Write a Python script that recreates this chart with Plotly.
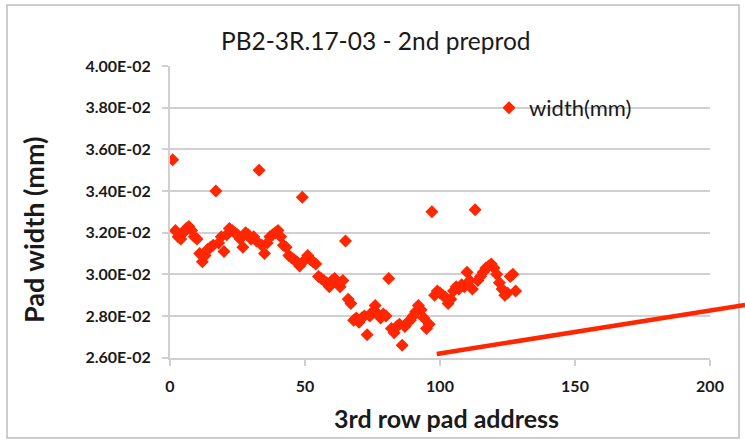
import plotly.graph_objects as go

W, H = 745, 441

pad_address = list(range(1, 129))
pad_width = [
    0.0355, 0.0321, 0.0318, 0.0317, 0.0320, 0.0322, 0.0323, 0.0321, 0.0318, 0.0317,
    0.0310, 0.0306, 0.0309, 0.0312, 0.0313, 0.0314, 0.0340, 0.0315, 0.0318, 0.0311,
    0.0319, 0.0322, 0.0321, 0.0320, 0.0319, 0.0317, 0.0313, 0.0320, 0.0319, 0.0317,
    0.0318, 0.0316, 0.0350, 0.0314, 0.0310, 0.0315, 0.0318, 0.0319, 0.0320, 0.0321,
    0.0318, 0.0314, 0.0313, 0.0309, 0.0308, 0.0307, 0.0306, 0.0304, 0.0337, 0.0307,
    0.0309, 0.0307, 0.0306, 0.0305, 0.0299, 0.0298, 0.0297, 0.0296, 0.0294, 0.0297,
    0.0298, 0.0296, 0.0294, 0.0297, 0.0316, 0.0288, 0.0286, 0.0278, 0.0279, 0.0277,
    0.0279, 0.0280, 0.0271, 0.0280, 0.0282, 0.0285, 0.0281, 0.0279, 0.0281, 0.0280,
    0.0298, 0.0274, 0.0272, 0.0275, 0.0276, 0.0266, 0.0275, 0.0277, 0.0278, 0.0280,
    0.0282, 0.0285, 0.0283, 0.0279, 0.0274, 0.0276, 0.0330, 0.0290, 0.0292, 0.0291,
    0.0290, 0.0289, 0.0286, 0.0288, 0.0292, 0.0294, 0.0293, 0.0295, 0.0294, 0.0301,
    0.0297, 0.0293, 0.0331, 0.0297, 0.0299, 0.0301, 0.0303, 0.0304, 0.0305, 0.0303,
    0.0300, 0.0296, 0.0293, 0.0290, 0.0291, 0.0299, 0.0300, 0.0292,
]

# stray red line (extends past the plot area to the image edge)
line_x = [98.8, 213.0]
line_y = [0.02618, 0.02853]

y_tickvals = [0.026, 0.028, 0.030, 0.032, 0.034, 0.036, 0.038, 0.040]
y_ticktext = ["2.60E-02", "2.80E-02", "3.00E-02", "3.20E-02",
              "3.40E-02", "3.60E-02", "3.80E-02", "4.00E-02"]
x_tickvals = [0, 50, 100, 150, 200]
x_ticktext = ["0", "50", "100", "150", "200"]

title_text = "PB2-3R.17-03 - 2nd preprod"
x_title = "3rd row pad address"
y_title = "Pad width (mm)"
series_name = "width(mm)"

RED = "#FF2600"
GRID = "#d0d0d0"
FONT = "Lato"
TXT = "#1a1a1a"

def px(x):
    return x / W

def py(y):
    return 1 - y / H

x_left, x_right = 170, 710
y_top, y_bot = 66, 357.7
y_range = [0.026, 0.040]

fig = go.Figure()
fig.add_trace(go.Scatter(
    x=pad_address, y=pad_width, mode="markers", name=series_name,
    marker=dict(symbol="diamond", size=10, color=RED, line=dict(width=0)),
    xaxis="x", yaxis="y",
))
fig.add_trace(go.Scatter(
    x=line_x, y=line_y, mode="lines", showlegend=False,
    line=dict(color=RED, width=4.5),
    xaxis="x2", yaxis="y2",
))

fig.update_layout(
    template="none",
    width=W, height=H,
    margin=dict(l=0, r=0, t=0, b=0, autoexpand=False),
    paper_bgcolor="white", plot_bgcolor="rgba(0,0,0,0)",
    font=dict(family=FONT, color=TXT),
    showlegend=True,
    hovermode="closest",
    legend=dict(x=px(489), y=py(108), xanchor="left", yanchor="middle",
                bgcolor="rgba(0,0,0,0)", borderwidth=0,
                font=dict(size=22, family=FONT, color=TXT)),
    xaxis=dict(
        domain=[px(x_left), px(x_right)], range=[0, 200],
        showgrid=False, zeroline=False, automargin=False,
        showline=True, linecolor=GRID, linewidth=2,
        ticks="outside", ticklen=6, tickwidth=2, tickcolor=GRID,
        tickvals=x_tickvals, ticktext=x_ticktext,
        tickfont=dict(size=16, family=FONT, color=TXT, weight="bold"),
        ticklabelstandoff=7,
        anchor="y",
    ),
    yaxis=dict(
        domain=[py(y_bot), py(y_top)], range=y_range,
        showgrid=True, gridcolor=GRID, gridwidth=2, zeroline=False, automargin=False,
        showline=True, linecolor=GRID, linewidth=2,
        ticks="outside", ticklen=6, tickwidth=2, tickcolor=GRID,
        tickvals=y_tickvals, ticktext=y_ticktext,
        tickfont=dict(size=16, family=FONT, color=TXT, weight="bold"),
        ticklabelstandoff=8,
        anchor="x",
    ),
    xaxis2=dict(
        domain=[px(x_left), 1.0], range=[0, (W - x_left) / ((x_right - x_left) / 200)],
        visible=False, anchor="y2", automargin=False, showgrid=False, zeroline=False,
    ),
    yaxis2=dict(
        domain=[py(y_bot), py(y_top)], range=y_range,
        visible=False, anchor="x2", automargin=False, showgrid=False, zeroline=False,
    ),
    shapes=[dict(type="rect", xref="paper", yref="paper",
                 x0=px(7), x1=px(739), y0=py(438), y1=py(5),
                 line=dict(color="#bdbdbd", width=1.5), fillcolor="rgba(0,0,0,0)",
                 layer="below")],
    annotations=[
        dict(text=title_text, xref="paper", yref="paper", x=px(376), y=py(41),
             showarrow=False, xanchor="center", yanchor="middle",
             font=dict(size=24.5, family=FONT, color=TXT)),
        dict(text=x_title, xref="paper", yref="paper", x=px(446), y=py(418),
             showarrow=False, xanchor="center", yanchor="middle",
             font=dict(size=25, family=FONT, color=TXT, weight="bold")),
        dict(text=y_title, xref="paper", yref="paper", x=px(33), y=py(230),
             showarrow=False, xanchor="center", yanchor="middle", textangle=-90,
             font=dict(size=27, family=FONT, color=TXT, weight="bold")),
    ],
)

fig.write_html("out.html")
